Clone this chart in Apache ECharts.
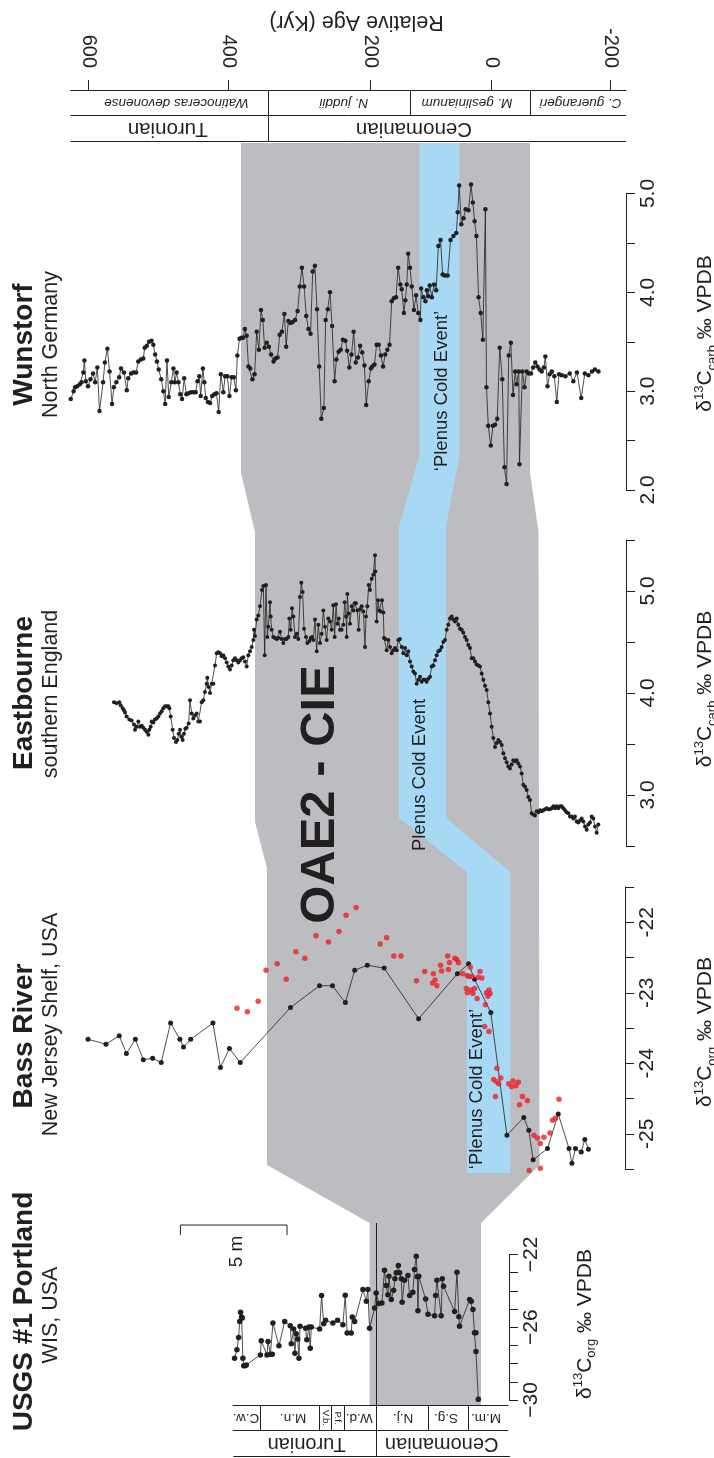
<!DOCTYPE html>
<html>
<head>
<meta charset="utf-8">
<script src="https://cdn.jsdelivr.net/npm/echarts@6/dist/echarts.min.js"></script>
<style>
html,body{margin:0;padding:0;background:#fff;}
#chart{width:714px;height:1458px;}
</style>
</head>
<body>
<div id="chart"></div>
<script>
// ---- Relative age scale (Kyr); tick positions expressed on the Wunstorf depth scale ----
const ageTicks = [600, 400, 200, 0, -200];
const agePositions = [79.4, 469.4, 863.6, 1202.3, 1532.2];

// ---- δ13C tick labels per section ----
const wunstorfLabels = [2, 3, 4, 5];
const eastbourneLabels = [3, 4, 5];
const bassLabels = [-25, -24, -23, -22];
const portlandLabels = [-30, -26, -22];

// ---- Wunstorf, North Germany: [depth position, δ13Ccarb ‰] ----
const wunstorf = [[30,2.92],[38,3.00],[42,3.04],[48,3.05],[55,3.07],[60,3.09],[65,3.19],[68,3.31],[72,3.10],[78,3.05],[85,3.12],[92,3.18],[98,3.09],[104,3.24],[110,2.80],[120,3.09],[125,3.29],[132,3.43],[138,3.20],[145,2.87],[150,3.04],[157,3.09],[165,3.14],[170,3.23],[178,3.19],[186,3.01],[190,3.13],[198,3.18],[205,3.19],[212,3.19],[218,3.30],[225,3.32],[232,3.33],[236,3.44],[242,3.46],[248,3.50],[255,3.51],[260,3.47],[265,3.37],[270,3.30],[275,3.22],[282,3.12],[288,3.00],[293,2.87],[298,3.31],[303,2.94],[310,3.09],[316,3.23],[320,3.09],[325,3.19],[330,3.09],[335,2.97],[340,2.92],[346,3.13],[352,2.97],[358,2.98],[365,2.99],[372,2.99],[378,2.99],[383,3.10],[388,3.15],[392,2.95],[398,3.23],[402,3.09],[406,2.93],[412,2.89],[418,2.88],[424,2.95],[430,2.97],[436,2.98],[442,2.79],[448,3.17],[455,2.99],[460,3.15],[466,3.15],[472,2.95],[478,3.14],[484,3.14],[490,3.01],[494,3.36],[500,3.53],[505,3.54],[510,3.54],[515,3.63],[520,3.56],[525,3.25],[530,3.23],[536,3.12],[542,3.17],[548,3.60],[554,3.42],[560,3.82],[565,3.72],[570,3.44],[576,3.49],[582,3.45],[588,3.37],[595,3.30],[600,3.33],[606,3.34],[612,3.57],[618,3.60],[625,3.78],[630,3.45],[636,3.71],[642,3.69],[648,3.70],[655,3.72],[662,3.81],[668,4.06],[674,4.25],[680,4.06],[686,3.76],[692,3.63],[698,3.58],[704,4.21],[710,4.27],[716,3.83],[722,3.25],[728,2.72],[735,2.83],[740,3.72],[746,3.83],[752,4.00],[758,3.66],[765,3.10],[770,3.32],[776,3.40],[782,3.42],[788,3.52],[795,3.51],[800,3.41],[806,3.24],[812,3.37],[818,3.60],[824,3.29],[830,3.34],[836,3.46],[842,3.39],[848,3.26],[853,2.86],[860,3.10],[866,3.23],[870,3.25],[876,3.27],[882,3.47],[888,3.47],[894,3.36],[900,3.25],[906,3.37],[912,3.42],[918,3.47],[924,3.91],[930,3.94],[936,3.95],[942,4.25],[948,4.08],[952,4.03],[958,3.79],[962,3.92],[966,4.08],[970,4.39],[975,4.25],[980,4.06],[986,3.82],[992,3.97],[998,3.79],[1004,3.72],[1006,4.04],[1012,3.95],[1018,3.91],[1022,4.02],[1026,3.96],[1030,4.07],[1036,3.95],[1042,4.08],[1048,4.02],[1054,4.47],[1060,4.53],[1066,4.18],[1072,4.17],[1080,4.17],[1088,4.53],[1096,4.57],[1104,4.60],[1108,4.81],[1112,5.08],[1118,4.69],[1124,4.75],[1130,4.84],[1138,4.83],[1145,5.09],[1150,4.91],[1155,4.72],[1160,4.57],[1166,3.95],[1172,3.79],[1178,3.52],[1185,4.84],[1188,3.04],[1193,2.65],[1200,2.45],[1206,2.65],[1212,2.66],[1218,2.72],[1225,3.44],[1232,3.12],[1238,2.23],[1244,2.06],[1250,3.36],[1256,3.49],[1262,2.96],[1268,3.20],[1272,3.07],[1278,3.20],[1280,2.26],[1288,3.20],[1294,3.04],[1300,3.20],[1306,3.18],[1312,3.18],[1318,3.24],[1324,3.29],[1330,3.25],[1336,3.22],[1342,3.20],[1348,3.24],[1352,3.35],[1358,3.05],[1364,3.17],[1370,3.20],[1377,3.15],[1384,2.89],[1390,3.17],[1398,3.16],[1408,3.15],[1420,3.18],[1430,3.10],[1440,3.19],[1452,2.93],[1462,3.18],[1472,3.16],[1482,3.20],[1490,3.22],[1500,3.20]];

// ---- Eastbourne, southern England: [depth position, δ13Ccarb ‰] ----
const eastbourne = [[42,3.91],[50,3.90],[58,3.91],[62,3.88],[68,3.85],[72,3.83],[75,3.81],[80,3.77],[88,3.74],[95,3.73],[102,3.69],[105,3.64],[110,3.67],[115,3.72],[120,3.67],[125,3.68],[130,3.66],[135,3.64],[140,3.62],[145,3.59],[148,3.64],[152,3.67],[155,3.72],[160,3.71],[165,3.74],[170,3.75],[175,3.77],[180,3.80],[185,3.82],[190,3.85],[195,3.87],[200,3.87],[205,3.87],[208,3.85],[212,3.77],[218,3.64],[222,3.56],[228,3.52],[232,3.54],[236,3.60],[240,3.64],[244,3.57],[248,3.54],[252,3.60],[256,3.65],[260,3.66],[266,3.70],[270,3.93],[275,3.80],[280,3.75],[285,3.78],[290,3.80],[295,3.72],[300,3.72],[305,3.91],[310,3.93],[315,4.01],[320,4.09],[322,4.15],[326,4.06],[330,4.00],[335,4.09],[340,4.09],[345,4.27],[350,4.39],[355,4.40],[360,4.39],[365,4.36],[370,4.37],[375,4.34],[380,4.30],[385,4.26],[390,4.23],[395,4.27],[400,4.32],[405,4.34],[410,4.32],[415,4.30],[420,4.32],[425,4.34],[430,4.35],[435,4.31],[440,4.26],[445,4.37],[450,4.41],[455,4.45],[460,4.52],[462,4.62],[465,4.56],[470,4.72],[475,4.76],[480,4.85],[486,5.01],[490,5.05],[494,4.37],[498,5.06],[502,4.55],[505,4.65],[510,4.89],[512,4.75],[515,4.62],[520,4.55],[525,4.54],[530,4.53],[535,4.54],[540,4.60],[545,4.53],[550,4.49],[555,4.53],[560,4.53],[565,4.55],[568,4.73],[572,4.62],[576,4.83],[580,4.75],[585,4.55],[590,4.58],[595,4.53],[600,4.94],[604,5.08],[608,4.99],[612,4.63],[618,4.55],[622,4.49],[628,4.51],[632,4.54],[636,4.55],[640,4.52],[645,4.72],[650,4.41],[655,4.67],[660,4.49],[665,4.58],[670,4.81],[675,4.65],[680,4.52],[685,4.73],[690,4.70],[695,4.62],[700,4.86],[704,4.55],[708,4.87],[712,4.68],[716,4.73],[720,4.62],[725,4.62],[730,4.67],[734,4.89],[738,4.75],[740,4.55],[742,4.97],[746,4.78],[750,4.68],[755,4.85],[760,4.81],[764,4.88],[768,4.88],[772,4.81],[776,4.62],[780,4.82],[785,4.85],[790,4.80],[795,4.45],[798,4.75],[802,4.85],[806,5.06],[810,5.01],[815,5.12],[820,5.16],[825,5.35],[826,5.19],[830,4.70],[834,4.91],[838,4.81],[842,4.80],[846,4.91],[850,4.79],[852,4.54],[856,4.53],[860,4.42],[865,4.52],[870,4.45],[875,4.39],[880,4.42],[885,4.44],[890,4.42],[895,4.52],[900,4.53],[905,4.45],[910,4.39],[915,4.44],[920,4.37],[925,4.41],[930,4.31],[935,4.26],[940,4.21],[945,4.19],[950,4.09],[955,4.13],[960,4.16],[965,4.11],[970,4.13],[975,4.13],[980,4.11],[985,4.14],[990,4.16],[995,4.26],[1000,4.27],[1005,4.32],[1010,4.37],[1015,4.41],[1020,4.42],[1025,4.45],[1030,4.50],[1035,4.52],[1040,4.62],[1045,4.67],[1050,4.73],[1055,4.75],[1060,4.72],[1065,4.70],[1070,4.73],[1075,4.67],[1080,4.63],[1085,4.62],[1090,4.59],[1095,4.55],[1100,4.52],[1105,4.47],[1110,4.44],[1115,4.34],[1120,4.34],[1125,4.31],[1130,4.28],[1135,4.27],[1140,4.26],[1145,4.19],[1150,4.13],[1155,4.07],[1160,4.03],[1165,3.91],[1170,3.80],[1175,3.67],[1180,3.56],[1185,3.47],[1190,3.51],[1195,3.54],[1200,3.52],[1205,3.49],[1210,3.41],[1215,3.36],[1220,3.32],[1225,3.28],[1230,3.26],[1235,3.30],[1240,3.34],[1245,3.33],[1250,3.34],[1255,3.31],[1260,3.28],[1265,3.21],[1270,3.10],[1275,3.08],[1280,3.05],[1285,2.98],[1290,2.95],[1295,2.82],[1300,2.81],[1305,2.80],[1310,2.84],[1315,2.83],[1320,2.85],[1325,2.84],[1330,2.85],[1335,2.86],[1340,2.87],[1345,2.86],[1350,2.86],[1355,2.87],[1360,2.89],[1365,2.87],[1370,2.89],[1375,2.87],[1380,2.89],[1385,2.89],[1390,2.87],[1395,2.85],[1400,2.83],[1405,2.82],[1410,2.79],[1415,2.79],[1420,2.77],[1425,2.79],[1430,2.74],[1435,2.73],[1440,2.75],[1445,2.77],[1450,2.74],[1455,2.69],[1460,2.66],[1465,2.71],[1470,2.73],[1475,2.79],[1480,2.77],[1485,2.69],[1490,2.63],[1495,2.71]];

// ---- Bass River, New Jersey Shelf: [depth position, δ13Corg ‰] ----
const bassRiver = [[78,-23.66],[128,-23.73],[165,-23.61],[185,-23.86],[210,-23.66],[232,-23.95],[258,-23.93],[282,-23.99],[308,-23.43],[334,-23.66],[344,-23.77],[364,-23.66],[426,-23.43],[447,-24.06],[472,-23.79],[502,-23.99],[642,-23.21],[723,-22.90],[759,-22.90],[795,-23.14],[821,-22.68],[856,-22.61],[903,-22.65],[999,-23.37],[1107,-22.73],[1138,-22.59],[1155,-22.81],[1200,-23.28],[1245,-25.02],[1292,-24.77],[1306,-24.95],[1318,-25.37],[1358,-25.21],[1388,-24.72],[1418,-25.21],[1426,-25.42],[1436,-25.21],[1452,-25.26],[1462,-25.08],[1472,-25.22]];
// second Bass River record (red dots)
const bassRiverAlt = [[493,-23.22],[522,-23.27],[552,-23.12],[574,-22.68],[605,-22.59],[630,-22.81],[657,-22.42],[682,-22.51],[713,-22.19],[748,-22.28],[777,-22.13],[797,-21.90],[825,-21.79],[892,-22.31],[910,-22.22],[930,-22.48],[950,-22.48],[993,-22.83],[1016,-22.70],[1040,-22.73],[1045,-22.82],[1038,-22.86],[1050,-22.90],[1060,-22.61],[1063,-22.69],[1080,-22.48],[1082,-22.67],[1085,-22.57],[1100,-22.51],[1105,-22.53],[1110,-22.57],[1122,-22.73],[1143,-22.64],[1135,-22.76],[1140,-22.77],[1148,-22.77],[1165,-22.78],[1170,-22.70],[1175,-22.79],[1132,-22.94],[1135,-23.00],[1145,-22.96],[1150,-23.01],[1155,-22.94],[1162,-23.08],[1185,-23.17],[1188,-23.00],[1195,-22.96],[1192,-23.05],[1198,-23.01],[1183,-23.48],[1195,-23.55],[1217,-24.07],[1208,-24.23],[1215,-24.26],[1228,-24.21],[1222,-24.29],[1213,-24.47],[1250,-24.29],[1258,-24.33],[1262,-24.25],[1270,-24.32],[1277,-24.27],[1280,-24.59],[1288,-24.47],[1302,-24.53],[1320,-25.02],[1330,-25.06],[1338,-25.14],[1348,-25.05],[1365,-24.99],[1372,-24.81],[1380,-24.78],[1390,-24.51],[1307,-25.52],[1338,-25.49]];

// ---- USGS #1 Portland, WIS: [height in m, δ13Corg ‰] ----
const portland = [[0.70,-27.70],[0.81,-27.24],[0.89,-26.56],[0.94,-25.68],[0.98,-25.18],[1.03,-25.44],[1.06,-25.49],[1.09,-27.70],[1.13,-28.12],[1.19,-28.12],[1.25,-28.07],[1.91,-27.52],[1.95,-26.74],[2.22,-27.52],[2.27,-26.78],[2.38,-27.48],[2.47,-27.48],[2.50,-25.77],[2.78,-27.02],[3.05,-25.68],[3.31,-25.92],[3.36,-26.91],[3.47,-26.10],[3.53,-27.43],[3.59,-26.36],[3.66,-26.65],[3.72,-27.70],[3.77,-25.95],[4.03,-26.05],[4.09,-26.69],[4.19,-25.99],[4.25,-27.15],[4.30,-25.99],[4.69,-26.10],[4.78,-24.26],[4.88,-25.81],[4.97,-25.62],[5.31,-25.77],[5.53,-25.62],[5.78,-25.86],[5.89,-24.24],[5.98,-26.32],[6.17,-26.32],[6.22,-25.44],[6.33,-25.68],[6.72,-23.93],[6.88,-24.57],[6.95,-23.93],[7.03,-26.05],[7.27,-24.94],[7.34,-24.11],[7.47,-24.70],[7.61,-24.67],[7.73,-22.86],[7.81,-23.71],[7.89,-24.21],[7.94,-23.20],[8.05,-24.48],[8.16,-23.97],[8.22,-23.34],[8.28,-23.01],[8.38,-22.61],[8.44,-23.01],[8.52,-23.34],[8.56,-24.63],[8.67,-23.42],[8.83,-23.16],[8.91,-24.26],[9.06,-24.08],[9.14,-22.83],[9.22,-22.09],[9.27,-23.23],[9.30,-25.09],[9.34,-23.20],[9.66,-24.45],[9.77,-25.29],[10.08,-25.37],[10.13,-24.26],[10.19,-23.42],[10.39,-25.37],[10.44,-23.34],[10.50,-23.75],[11.02,-25.13],[11.13,-22.97],[11.22,-25.42],[11.25,-25.95],[11.72,-24.48],[11.80,-24.57],[11.88,-25.03],[11.95,-26.30],[12.02,-26.30],[12.02,-27.33],[12.13,-29.96]];
// 5 m scale bar on the Portland height scale
const scaleBar = [[-1.84,-20.93],[-1.84,-20.38],[3.16,-20.38],[3.16,-20.93]];

// ---- Correlation bands (page layout) ----
const grayBand = [[241,143],[530,143],[530,473],[538.5,532],[539.5,1165],[481,1223],[481,1405],[369.5,1405],[369.5,1223],[267,1165],[267,868],[255,822],[255,532],[241,473]];
const blueBand = [[419.5,143],[459.5,143],[459.5,455],[446,527],[446,818],[510.3,872],[510.3,1173],[467,1173],[467,872],[399,818],[399,527],[419.5,455]];

const ink = '#231f20';
const FF = '"Liberation Sans", Arial, Helvetica, sans-serif';
const R90 = Math.PI / 2;

function text(str, x, y, rot, font, extra) {
  return Object.assign({
    type: 'text', x: x, y: y, rotation: rot, z: 1, silent: true,
    style: { text: str, font: font, fill: ink, align: 'center', verticalAlign: 'middle' }
  }, extra || {});
}
function line(x1, y1, x2, y2, w) {
  return { type: 'line', z: 3, silent: true, shape: { x1: x1, y1: y1, x2: x2, y2: y2 },
           style: { stroke: ink, lineWidth: w || 1 } };
}
function isoName(x, y, sub) {
  return {
    type: 'text', x: x, y: y, rotation: R90, z: 1, silent: true,
    style: {
      text: '{n|δ}{s|13}{n|C}{b|' + sub + '}{n| ‰ VPDB}',
      align: 'center', verticalAlign: 'middle', fill: ink,
      rich: {
        n: { font: '21px ' + FF, fill: ink, lineHeight: 26 },
        s: { font: '13px ' + FF, fill: ink, verticalAlign: 'top', lineHeight: 14 },
        b: { font: '13px ' + FF, fill: ink, verticalAlign: 'bottom', lineHeight: 14 }
      }
    }
  };
}

function deltaAxis(gridIndex, min, max, interval, offset, labels, fmt) {
  return {
    gridIndex: gridIndex, type: 'value', position: 'right', offset: offset,
    min: min, max: max, interval: interval,
    axisLine: { show: true, onZero: false, lineStyle: { color: ink, width: 1 } },
    axisTick: { show: true, length: 9, lineStyle: { color: ink, width: 1 } },
    axisLabel: {
      customValues: labels, rotate: 90, margin: 12, color: ink,
      fontSize: 21, fontFamily: FF,
      formatter: function (v) { return labels.indexOf(v) < 0 ? '' : fmt(v); }
    },
    splitLine: { show: false }
  };
}
function hiddenX(gridIndex, min, max) {
  return { gridIndex: gridIndex, type: 'value', min: min, max: max, show: false,
           axisLine: { onZero: false }, splitLine: { show: false } };
}
function curve(name, data, xi, size) {
  return {
    name: name, type: 'line', xAxisIndex: xi, yAxisIndex: xi, data: data,
    symbol: 'circle', symbolSize: size, showSymbol: true, clip: false, z: 3,
    lineStyle: { color: ink, width: 0.8 }, itemStyle: { color: ink }
  };
}

const chart = echarts.init(document.getElementById('chart'), null, { renderer: 'canvas' });

chart.setOption({
  animation: false,
  backgroundColor: '#ffffff',
  grid: [
    { left: 70.5, top: 90, width: 555.5, height: 50 },   // relative age header
    { left: 60, top: 193.5, width: 560, height: 296.5 }, // Wunstorf
    { left: 100, top: 540, width: 520, height: 306 },    // Eastbourne
    { left: 60, top: 887, width: 560, height: 282 },     // Bass River
    { left: 177, top: 1254.5, width: 332, height: 145.5 } // Portland
  ],
  xAxis: [
    {
      gridIndex: 0, type: 'value', position: 'top', min: 29.2, max: 1576.6,
      axisLine: { show: true, onZero: false, lineStyle: { color: ink, width: 1.2 } },
      axisTick: { show: true, customValues: agePositions, length: 10, lineStyle: { color: ink, width: 1 } },
      axisLabel: {
        customValues: agePositions, rotate: 90, margin: 22, color: ink, fontSize: 20, fontFamily: FF,
        formatter: function (v) {
          const i = agePositions.indexOf(v);
          return i < 0 ? '' : String(ageTicks[i]);
        }
      },
      splitLine: { show: false }
    },
    hiddenX(1, 0, 1560),
    hiddenX(2, 0, 1560),
    hiddenX(3, 0, 1560),
    hiddenX(4, -2, 13.57)
  ],
  yAxis: [
    { gridIndex: 0, type: 'value', show: false, min: 0, max: 1, axisLine: { onZero: false }, splitLine: { show: false } },
    deltaAxis(1, 2, 5, 0.5, 6, wunstorfLabels, function (v) { return v.toFixed(1); }),
    deltaAxis(2, 2.5, 5.5, 0.5, 6, eastbourneLabels, function (v) { return v.toFixed(1); }),
    deltaAxis(3, -25.5, -21.5, 0.5, 5, bassLabels, function (v) { return String(v); }),
    deltaAxis(4, -30, -22, 1, 0, portlandLabels, function (v) { return String(v).replace('-', '\u2212'); })
  ],
  series: [
    curve('Wunstorf', wunstorf, 1, 4.5),
    curve('Eastbourne', eastbourne, 2, 4),
    curve('Bass River', bassRiver, 3, 5),
    {
      name: 'Bass River (second record)', type: 'scatter', xAxisIndex: 3, yAxisIndex: 3,
      data: bassRiverAlt, symbol: 'circle', symbolSize: 5.5, clip: false, z: 4,
      itemStyle: { color: '#ed2024' }
    },
    curve('USGS #1 Portland', portland, 4, 5.5),
    {
      name: 'scale', type: 'line', xAxisIndex: 4, yAxisIndex: 4, data: scaleBar,
      symbol: 'none', clip: false, z: 3, lineStyle: { color: ink, width: 1 }
    }
  ],
  graphic: { elements: [
    // correlation bands
    { type: 'polygon', z: 0, silent: true, shape: { points: grayBand }, style: { fill: '#bcbdc0' } },
    { type: 'polygon', z: 0, silent: true, shape: { points: blueBand }, style: { fill: '#a7d9f4' } },

    // header table
    line(70.5, 115.5, 626, 115.5),
    line(70.5, 141.5, 626, 141.5),
    line(268.5, 90, 268.5, 141.5),
    line(410.5, 90, 410.5, 115.5),
    line(530.5, 90, 530.5, 115.5),
    text('Relative Age (Kyr)', 356.5, 21.5, Math.PI, '21.5px ' + FF),
    text('Watinoceras devonense', 176.5, 103, Math.PI, 'italic 13.5px ' + FF),
    text('N. juddii', 343.8, 103, Math.PI, 'italic 13.5px ' + FF),
    text('M. geslinianum', 467, 103, Math.PI, 'italic 13.5px ' + FF),
    text('C. guerangeri', 580.7, 103, Math.PI, 'italic 13.5px ' + FF),
    text('Turonian', 167.8, 128.5, Math.PI, '20.5px ' + FF),
    text('Cenomanian', 414, 128.5, Math.PI, '20.5px ' + FF),

    // section titles
    text('Wunstorf', 24, 344.5, R90, 'bold 28px ' + FF),
    text('North Germany', 51.5, 344.5, R90, '21.5px ' + FF),
    text('Eastbourne', 24, 693, R90, 'bold 28px ' + FF),
    text('southern England', 51.5, 694, R90, '21.5px ' + FF),
    text('Bass River', 24, 1036, R90, 'bold 28px ' + FF),
    text('New Jersey Shelf, USA', 51.5, 1024.5, R90, '21.5px ' + FF),
    text('USGS #1 Portland', 24, 1311.5, R90, 'bold 28px ' + FF),
    text('WIS, USA', 51.5, 1315, R90, '21.5px ' + FF),

    // isotope axis names
    isoName(705.5, 333.5, 'carb'),
    isoName(705.5, 689, 'carb'),
    isoName(705.5, 1032, 'org'),
    isoName(585, 1324, 'org'),

    // event labels
    text('OAE2 - CIE', 320.3, 794.5, R90, 'bold 49px ' + FF),
    text('\u2018Plenus Cold Event\u2019', 442, 391, R90, '18.5px ' + FF),
    text('Plenus Cold Event', 420, 775, R90, '18.5px ' + FF),
    text('\u2018Plenus Cold Event\u2019', 477, 1089, R90, '18.5px ' + FF),

    // Portland scale label and zone table
    text('5 m', 237, 1251.5, R90, '19px ' + FF),
    line(232.7, 1405.5, 508.3, 1405.5),
    line(232.7, 1430.5, 508.3, 1430.5),
    line(233.4, 1456.5, 510, 1456.5, 1.2),
    line(260.5, 1405.5, 260.5, 1430.5),
    line(319.5, 1405.5, 319.5, 1430.5),
    line(331.5, 1405.5, 331.5, 1430.5),
    line(344.5, 1405.5, 344.5, 1430.5),
    line(428.5, 1405.5, 428.5, 1430.5),
    line(468.5, 1405.5, 468.5, 1430.5),
    line(376.5, 1223, 376.5, 1457),
    text('C.w.', 246, 1418, Math.PI, '13.5px ' + FF),
    text('M.n.', 293, 1418, Math.PI, '13.5px ' + FF),
    text('V.b.', 325.3, 1418, -R90, '9.5px ' + FF),
    text('P.f.', 337.8, 1418, -R90, '9.5px ' + FF),
    text('W.d.', 359.3, 1418, Math.PI, '13.5px ' + FF),
    text('N.j.', 403, 1418, Math.PI, '13.5px ' + FF),
    text('S.g.', 446, 1418, Math.PI, '13.5px ' + FF),
    text('M.m.', 486, 1418, Math.PI, '13.5px ' + FF),
    text('Turonian', 306.7, 1444, Math.PI, '20px ' + FF),
    text('Cenomanian', 441.7, 1444, Math.PI, '20px ' + FF)
  ] }
});
</script>
</body>
</html>
